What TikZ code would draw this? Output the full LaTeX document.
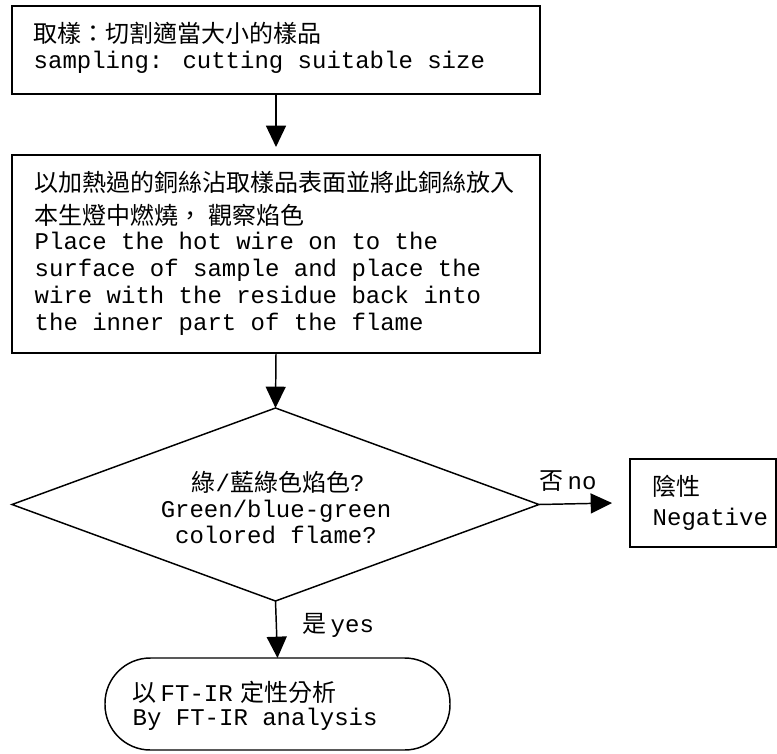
\documentclass[tikz,border=0pt]{standalone}
\usepackage{fontspec}
\setmainfont{Liberation Mono}
\newfontfamily\cjk{Noto Sans CJK TC}
\usetikzlibrary{arrows.meta,shapes.geometric}
\begin{document}
\begin{tikzpicture}[x=0.75pt,y=-0.75pt,
  line width=1.1pt,
  boxd/.style={draw, inner sep=0pt, outer sep=0pt},
  arr/.style={-{Triangle[width=15pt,length=16pt]}},
  txt/.style={anchor=base west, inner sep=0pt, font=\fontsize{18pt}{22pt}\selectfont},
  ctxt/.style={txt, anchor=base}
]
\useasboundingbox (0,0) rectangle (777,753);
% shapes
\node[boxd, minimum width=396pt, minimum height=66pt] (b1) at (276,50) {};
\node[boxd, minimum width=396pt, minimum height=148.5pt] (b2) at (276,254) {};
\node[boxd, diamond, minimum width=395.25pt, minimum height=144.75pt] (dia) at (275.5,504.5) {};
\node[boxd, minimum width=109.5pt, minimum height=66pt] (neg) at (703,503) {};
\node[boxd, minimum width=258.75pt, minimum height=69pt, rounded corners=34pt] (term) at (277.5,704) {};
% connectors
\draw[arr] (b1.south) -- ([yshift=6pt]b2.north);
\draw[arr] (b2.south) -- (dia.north);
\draw[arr] (dia.east) -- ([xshift=-13.5pt]neg.west);
\draw[arr] (dia.south) -- (term.north);
% texts
\node[txt] (t1a) at (33,42) {\cjk 取樣：切割適當大小的樣品};
\node[txt] (t1b) at (33,68) {sampling: cutting suitable size};
\node[txt] (t2a) at (34,191) {\cjk 以加熱過的銅絲沾取樣品表面並將此銅絲放入};
\node[txt] (t2b) at (34,224) {\cjk 本生燈中燃燒， 觀察焰色};
\node[txt] (t2c) at (34,249) {Place the hot wire on to the};
\node[txt] (t2d) at (34,276) {surface of sample and place the};
\node[txt] (t2e) at (34,303) {wire with the residue back into};
\node[txt] (t2f) at (34,330) {the inner part of the flame};
\node[ctxt] (t3a) at (278,491) {{\cjk 綠}/{\cjk 藍綠色焰色}?};
\node[ctxt] (t3b) at (276,517) {Green/blue-green};
\node[ctxt] (t3c) at (276,543) {colored flame?};
\node[txt] (t4a) at (652,495) {\cjk 陰性};
\node[txt] (t4b) at (652,525) {Negative};
\node[txt] (t5a) at (132,701) {{\cjk 以}\hspace{3pt}FT-IR\hspace{6pt}{\cjk 定性分析}};
\node[txt] (t5b) at (132,725) {By FT-IR analysis};
\node[txt] (lno) at (539,489) {{\cjk 否}\hspace{3pt}no};
\node[txt] (lyes) at (302,632) {{\cjk 是}\hspace{3pt}yes};
\end{tikzpicture}
\end{document}
